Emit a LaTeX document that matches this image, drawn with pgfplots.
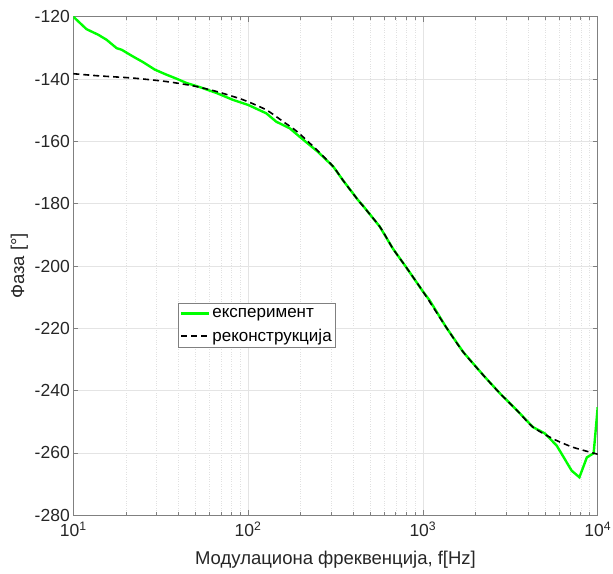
\documentclass[border=0pt]{standalone}
\usepackage{fontspec}
\setmainfont{Liberation Sans}
\usepackage{pgfplots}
\pgfplotsset{compat=1.18}
\usetikzlibrary{calc}
\definecolor{axgray}{RGB}{128,128,128}
\definecolor{txtgray}{RGB}{38,38,38}
\definecolor{mgreen}{RGB}{0,255,0}
\definecolor{gridmaj}{RGB}{228,228,228}
\definecolor{gridmin}{RGB}{225,225,225}
\begin{document}
\begin{tikzpicture}
\begin{axis}[name=ax, scale only axis, width=524.4pt, height=498.6pt,
  xmode=log, log basis x=10,
  xmin=10, xmax=10000, ymin=-280, ymax=-120,
  xtick={10,100,1000,10000},
  xticklabels={10\textsuperscript{1},10\textsuperscript{2},10\textsuperscript{3},10\textsuperscript{4}},
  minor xtick={20,30,40,50,60,70,80,90,200,300,400,500,600,700,800,900,2000,3000,4000,5000,6000,7000,8000,9000},
  ytick={-280,-260,-240,-220,-200,-180,-160,-140,-120},
  yticklabels={-280,-260,-240,-220,-200,-180,-160,-140,-120},
  xmajorgrids=true, xminorgrids=true, ymajorgrids=true,
  major grid style={color=gridmaj, line width=0.8pt},
  minor grid style={color=gridmin, dotted, line width=0.5pt},
  axis line style={axgray, line width=0.9pt},
  tick style={axgray, line width=0.7pt},
  major tick length=5pt, minor tick length=3pt,
  tick align=inside,
  ticklabel style={font=\fontsize{17.5}{20}\selectfont, text=txtgray},
  xticklabel style={yshift=-3pt},
  xlabel={Модулациона фреквенција, f[Hz]},
  ylabel={Фаза [°]},
  label style={font=\fontsize{18.5}{22}\selectfont, text=txtgray},
  xlabel style={yshift=-7pt},
  legend style={at={(0.199,0.426)}, anchor=north west, draw=axgray, line width=0.6pt,
    font=\fontsize{17}{20}\selectfont, inner xsep=2pt, inner ysep=3pt, row sep=6pt},
  legend cell align=left,
  legend image code/.code={\draw[#1] (0pt,0pt) -- (28pt,0pt);},
]
\addplot[mgreen, line width=2.4pt] coordinates {
(10,-120) (11.9,-124.0) (13.9,-125.8) (15.5,-127.4) (17.7,-130.1) (18.9,-130.6)
(22.0,-132.8) (25.1,-134.6) (29.3,-137.0) (34.1,-138.6) (39.0,-139.9) (44.5,-141.3)
(53.0,-142.6) (66.1,-144.5) (82.0,-146.7) (100,-148.3) (127,-151.0) (145,-153.7)
(173,-155.8) (197,-158.5) (250,-163.3) (307,-168.1) (348,-172.4) (425,-178.8)
(452,-180.5) (567,-187.4) (673,-194.4) (800,-200.3) (1004,-208.3) (1092,-211.0)
(1356,-219.6) (1700,-227.6) (2220,-235.1) (2772,-241.0) (3463,-246.4) (4262,-251.7)
(4976,-253.7) (5820,-257.6) (7103,-265.7) (7860,-267.8) (8670,-261.4) (9480,-260.1)
(10000,-245.3)
};
\addlegendentry{експеримент}
\addplot[black, line width=1.6pt, dash pattern=on 6pt off 4pt, smooth, tension=0.4] coordinates {
(10,-138.3) (14.1,-139.0) (22,-139.7) (34,-140.8) (48.6,-142.2) (66,-144.0)
(94,-146.7) (127,-149.9) (159,-153.7) (191,-156.9) (250,-163.0) (307,-168.1)
(348,-172.4) (425,-178.8) (567,-187.4) (673,-194.4) (800,-200.3) (1004,-208.3)
(1356,-219.6) (1700,-227.6) (2220,-235.1) (2772,-241.0) (3463,-246.4) (4262,-251.7)
(5570,-255.5) (7250,-258.2) (10000,-260.4)
};
\addlegendentry{реконструкција}
\end{axis}
\pgfresetboundingbox
\path ($(ax.south west)+(-73.3pt,-57.7pt)$) rectangle ($(ax.north east)+(15.3pt,16.7pt)$);
\end{tikzpicture}
\end{document}
